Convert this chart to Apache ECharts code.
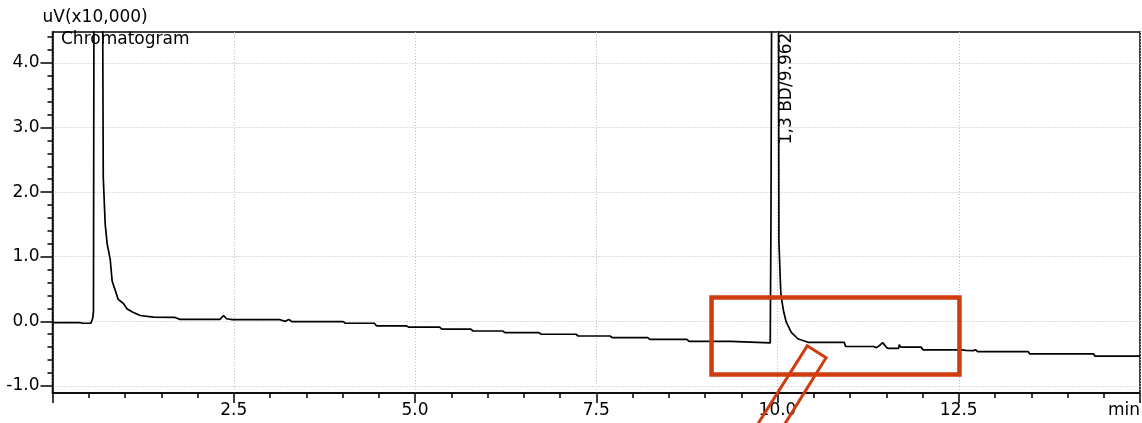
<!DOCTYPE html>
<html>
<head>
<meta charset="utf-8">
<script src="https://cdn.jsdelivr.net/npm/echarts@6/dist/echarts.min.js"></script>
<style>
  html, body { margin: 0; padding: 0; background: #fff; }
  #chart { width: 1142px; height: 423px; }
</style>
</head>
<body>
<div id="chart"></div>
<script>
// retention time (min) and detector signal (uV x10,000)
const timeMin = [
  0.00, 0.38, 0.40, 0.42, 0.53, 0.555, 0.565, 0.575, 0.63, 0.685, 0.70,
  0.727, 0.754, 0.796, 0.823, 0.865, 0.906, 0.975, 1.03, 1.11, 1.21, 1.39,
  1.69, 1.76, 1.98, 1.99, 2.00, 2.31, 2.36, 2.40, 2.48, 3.14, 3.21, 3.26,
  3.30, 4.01, 4.04, 4.44, 4.47, 4.88, 4.91, 5.34, 5.37, 5.77, 5.80, 6.21,
  6.24, 6.71, 6.74, 7.22, 7.25, 7.69, 7.72, 8.21, 8.24, 8.75, 8.78, 9.35,
  9.37, 9.90, 9.91, 9.925, 9.962, 10.01, 10.02, 10.04, 10.045, 10.064,
  10.087, 10.12, 10.19, 10.28, 10.42, 10.92, 10.94, 11.33, 11.36, 11.40,
  11.45, 11.50, 11.53, 11.67, 11.68, 11.70, 11.98, 12.01, 12.54, 12.56,
  12.60, 12.70, 12.73, 12.76, 13.46, 13.48, 14.36, 14.38, 15.00
]
const signal = [
  -0.02, -0.02, -0.01, -0.03, -0.03, 0.05, 0.15, 7.0, 8.0, 7.0, 2.23,
  1.50, 1.20, 0.96, 0.62, 0.48, 0.34, 0.28, 0.19, 0.14, 0.09, 0.065,
  0.06, 0.03, 0.03, 0.05, 0.03, 0.03, 0.09, 0.04, 0.025, 0.025, 0.0, 0.03,
  -0.005, -0.005, -0.03, -0.03, -0.07, -0.07, -0.09, -0.09, -0.12, -0.12, -0.15, -0.15,
  -0.176, -0.176, -0.20, -0.20, -0.227, -0.227, -0.253, -0.253, -0.28, -0.28, -0.31, -0.31,
  -0.335, -0.335, 1.6, 7.0, 9.0, 7.0, 1.22, 1.20, 0.45, 0.29,
  0.14, -0.01, -0.17, -0.27, -0.325, -0.325, -0.39, -0.39, -0.41, -0.38,
  -0.33, -0.40, -0.42, -0.42, -0.36, -0.40, -0.40, -0.443, -0.443, -0.465,
  -0.45, -0.455, -0.44, -0.47, -0.47, -0.505, -0.505, -0.54, -0.54
]

const yMajorTicks = [-1.0, 0.0, 1.0, 2.0, 3.0, 4.0]
const yMinorTicks = [
  -0.8, -0.6, -0.4, -0.2, 0.2, 0.4, 0.6, 0.8, 1.2, 1.4, 1.6, 1.8,
  2.2, 2.4, 2.6, 2.8, 3.2, 3.4, 3.6, 3.8, 4.2, 4.4
]

const peakLabel = { name: '1,3 BD/9.962', time: 10.125, top: 4.47 }
// highlight box and callout pointer, in (min, signal) units
const boxCorners = [[9.09, 0.37], [12.51, -0.825]]
const calloutCorners = [[10.41, -0.38], [10.67, -0.565], [9.80, -2.13], [9.425, -2.13]]

const font = 'DejaVu Sans'
const red = '#cf3c10'
const dots = { color: '#bdbdbd', type: [1, 2], width: 1 }

const chart = echarts.init(document.getElementById('chart'))

const option = {
  animation: false,
  backgroundColor: '#fff',
  textStyle: { fontFamily: font, color: '#000' },
  title: {
    text: 'Chromatogram',
    left: 61,
    top: 31,
    padding: 0,
    textStyle: { fontFamily: font, fontSize: 17, fontWeight: 'normal', color: '#000' }
  },
  grid: {
    left: 52.5, right: 2, top: 32, bottom: 30,
    outerBoundsMode: 'none',
    containLabel: false,
    show: true, borderColor: '#000', borderWidth: 1.5
  },
  xAxis: {
    type: 'value',
    min: 0,
    max: 15,
    interval: 2.5,
    axisLine: { onZero: false, lineStyle: { color: '#000', width: 1.5 } },
    axisTick: { length: 10, lineStyle: { color: '#000', width: 1.5 } },
    minorTick: { show: true, splitNumber: 5, length: 5, lineStyle: { color: '#000', width: 1.5 } },
    axisLabel: {
      fontFamily: font, fontSize: 17, color: '#000', margin: 9,
      showMinLabel: false,
      alignMaxLabel: 'right',
      formatter: v => (v === 15 ? 'min' : v.toFixed(1))
    },
    splitLine: { show: true, lineStyle: dots }
  },
  yAxis: [
    {
      type: 'value',
      min: -1.11,
      max: 4.48,
      name: 'uV(x10,000)',
      nameLocation: 'end',
      nameGap: 14,
      nameTextStyle: { fontFamily: font, fontSize: 17, color: '#000', align: 'left', verticalAlign: 'middle', padding: [0, 0, 0, -10] },
      axisLine: { show: true, onZero: false, lineStyle: { color: '#000', width: 1.5 } },
      axisTick: { show: true, length: 12, customValues: yMajorTicks, lineStyle: { color: '#000', width: 1.5 } },
      axisLabel: {
        fontFamily: font, fontSize: 17, color: '#000', margin: 13,
        customValues: yMajorTicks,
        formatter: v => v.toFixed(1)
      },
      splitLine: { show: true, lineStyle: dots }
    },
    {
      type: 'value',
      min: -1.11,
      max: 4.48,
      position: 'left',
      axisLine: { show: false, onZero: false },
      axisTick: { show: true, length: 5, customValues: yMinorTicks, lineStyle: { color: '#000', width: 1.5 } },
      axisLabel: { show: false },
      splitLine: { show: false }
    }
  ],
  series: [
    {
      type: 'line',
      data: timeMin.map((t, i) => [t, signal[i]]),
      showSymbol: false,
      clip: true,
      lineStyle: { color: '#000', width: 1.7 },
      markPoint: {
        symbol: 'circle',
        symbolSize: 0,
        data: [{ coord: [peakLabel.time, peakLabel.top] }],
        label: {
          show: true,
          formatter: peakLabel.name,
          position: 'inside',
          rotate: 90,
          align: 'right',
          verticalAlign: 'middle',
          fontFamily: font,
          fontSize: 17,
          color: '#000'
        }
      }
    }
  ]
}

chart.setOption(option)

// annotation shapes laid over the plot, positioned through the grid's scales
const toPx = p => chart.convertToPixel({ gridIndex: 0 }, p)
const b0 = toPx(boxCorners[0])
const b1 = toPx(boxCorners[1])
chart.setOption({
  graphic: [
    {
      type: 'rect',
      silent: true,
      z: 100,
      shape: { x: b0[0], y: b0[1], width: b1[0] - b0[0], height: b1[1] - b0[1] },
      style: { fill: 'none', stroke: red, lineWidth: 4.5 }
    },
    {
      type: 'polygon',
      silent: true,
      z: 100,
      shape: { points: calloutCorners.map(toPx) },
      style: { fill: 'none', stroke: red, lineWidth: 3 }
    }
  ]
})
</script>
</body>
</html>
